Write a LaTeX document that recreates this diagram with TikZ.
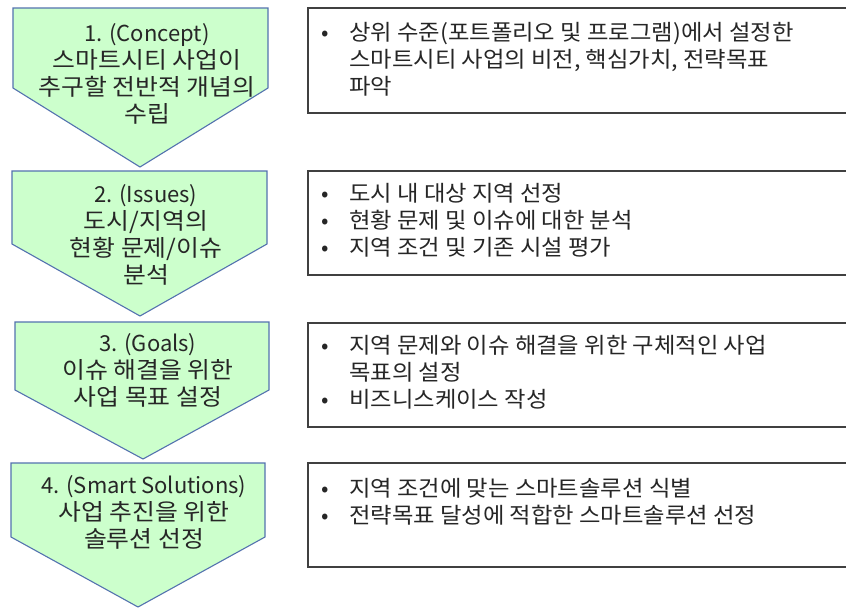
\documentclass[tikz,border=0pt]{standalone}
\usepackage{fontspec}
\setmainfont{Noto Sans CJK KR}[FakeStretch=1.08]
\newfontfamily\lat{Noto Sans CJK KR}
\newfontfamily\boxfont{Noto Sans CJK KR}[FakeStretch=1.06]
\definecolor{chevfill}{RGB}{204,255,204}
\definecolor{chevline}{RGB}{84,114,175}
\definecolor{boxline}{RGB}{64,64,64}
\definecolor{txt}{RGB}{38,38,38}
\newcommand\bl{\makebox[24pt][c]{\lat •}\hspace{12pt}}
\newcommand\ind{\hspace{36pt}}
\newcommand\latline[1]{{\lat\fontsize{22}{27}\selectfont #1}}
\tikzset{
  chev/.style={fill=chevfill, draw=chevline, line width=1.1pt, line join=miter},
  descbox/.style={draw=boxline, line width=1.3pt, fill=white},
  ctext/.style={anchor=base, inner sep=0pt, text=txt, font=\fontsize{23}{27}\selectfont},
  btext/.style={anchor=base west, inner sep=0pt, text=txt, font=\boxfont\fontsize{22}{27}\selectfont}
}
\begin{document}
\begin{tikzpicture}[x=1pt,y=-1pt]
\useasboundingbox (0,0) rectangle (846,608);
\fill[white] (0,0) rectangle (846,608);
\clip (0,0) rectangle (846,608);
% chevrons
\draw[chev] (13,8) -- (268,8) -- (268,88) -- (140,167) -- (13,88) -- cycle;
\draw[chev] (12,171) -- (267,171) -- (267,244) -- (140,316) -- (12,244) -- cycle;
\draw[chev] (15,322) -- (269,322) -- (269,390) -- (143,459) -- (15,390) -- cycle;
\draw[chev] (11,463) -- (265,463) -- (265,537) -- (138,607) -- (11,537) -- cycle;
% description boxes
\draw[descbox] (308,8) rectangle (880,113);
\draw[descbox] (308,171) rectangle (880,275);
\draw[descbox] (308,323) rectangle (880,427);
\draw[descbox] (308,463) rectangle (880,567);
% chevron texts
\node[ctext] (c1) at (147,41.4) {\begin{tabular}[t]{@{}c@{}}\latline{1. (Concept)}\\스마트시티 사업이\\추구할 전반적 개념의\\수립\end{tabular}};
\node[ctext] (c2) at (146,202.4) {\begin{tabular}[t]{@{}c@{}}\latline{2. (Issues)}\\도시/지역의\\현황 문제/이슈\\분석\end{tabular}};
\node[ctext] (c3) at (148,351.4) {\begin{tabular}[t]{@{}c@{}}\latline{3. (Goals)}\\이슈 해결을 위한\\사업 목표 설정\end{tabular}};
\node[ctext] (c4) at (144,493.4) {\begin{tabular}[t]{@{}c@{}}\latline{4. (Smart Solutions)}\\사업 추진을 위한\\솔루션 선정\end{tabular}};
% box texts
\node[btext] (b1) at (313,40.4) {\begin{tabular}[t]{@{}l@{}}\bl 상위 수준(포트폴리오 및 프로그램)에서 설정한\\\ind 스마트시티 사업의 비전, 핵심가치, 전략목표\\\ind 파악\end{tabular}};
\node[btext] (b2) at (313,201.4) {\begin{tabular}[t]{@{}l@{}}\bl 도시 내 대상 지역 선정\\\bl 현황 문제 및 이슈에 대한 분석\\\bl 지역 조건 및 기존 시설 평가\end{tabular}};
\node[btext] (b3) at (313,353.4) {\begin{tabular}[t]{@{}l@{}}\bl 지역 문제와 이슈 해결을 위한 구체적인 사업\\\ind 목표의 설정\\\bl 비즈니스케이스 작성\end{tabular}};
\node[btext] (b4) at (313,496.4) {\begin{tabular}[t]{@{}l@{}}\bl 지역 조건에 맞는 스마트솔루션 식별\\\bl 전략목표 달성에 적합한 스마트솔루션 선정\end{tabular}};
\end{tikzpicture}
\end{document}
